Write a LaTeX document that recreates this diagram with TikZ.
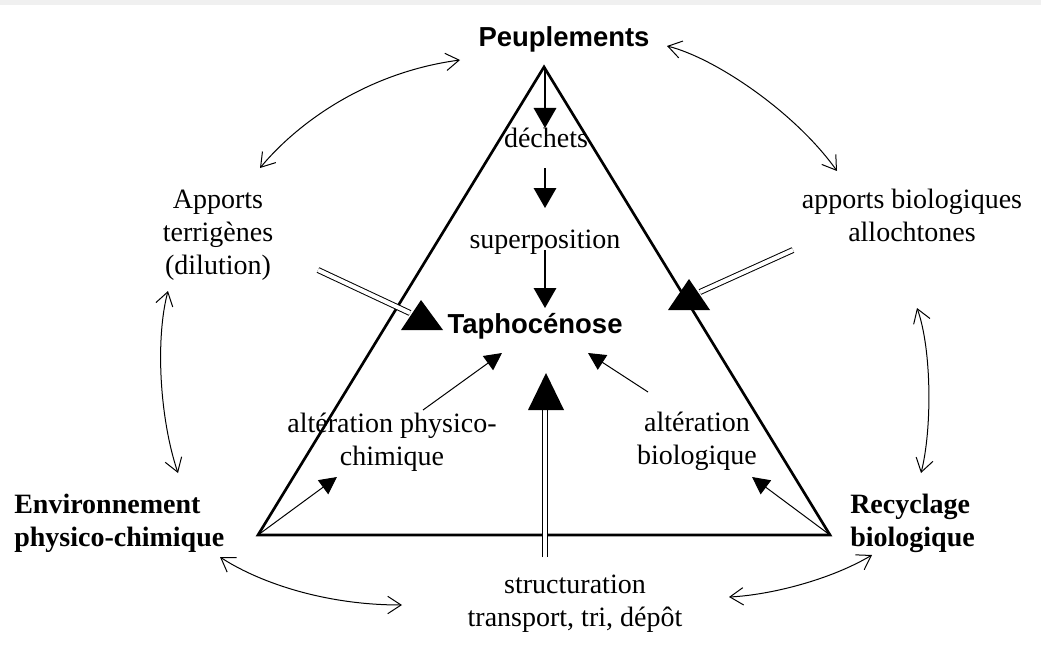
\documentclass[tikz,border=0pt]{standalone}
\usepackage{fontspec}
\setmainfont{Liberation Serif}
\newfontfamily\arialfont{Liberation Sans}
\usetikzlibrary{arrows.meta}
\newcommand{\txtlines}[2]{\begin{tabular}[t]{@{}#1@{}}#2\end{tabular}}
\begin{document}
\begin{tikzpicture}[x=0.75pt,y=-0.75pt,
  reg/.style={font=\fontsize{21}{24.75}\selectfont, inner sep=0pt, anchor=base},
  hdsans/.style={font=\arialfont\bfseries\fontsize{20.6}{24}\selectfont, inner sep=0pt, anchor=base},
  hdserif/.style={font=\bfseries\fontsize{21}{24.75}\selectfont, inner sep=0pt, anchor=base west},
  edgeline/.style={line width=2pt},
  flow/.style={line width=0.8pt, -{Triangle[length=15pt,width=17pt]}},
  smallflow/.style={line width=0.75pt, -{Triangle[length=13pt,width=13pt]}},
  link/.style={line width=0.75pt, {Straight Barb[length=10pt,width=13pt]}-{Straight Barb[length=10pt,width=13pt]}},
  dbl/.style={draw, double, line width=0.75pt, double distance=3pt},
  headtri/.style={fill=black}]
\useasboundingbox (0,0) rectangle (1041,649);
\fill[black!6] (0,0) rectangle (1041,5);

% triangle vertices
\coordinate (apex) at (544,67);
\coordinate (bl) at (258,535);
\coordinate (br) at (830,535);
\draw[edgeline] (apex) -- (bl) -- (br) -- cycle;

% texts
\node[hdsans] (peup) at (564,47) {Peuplements};
\node[hdsans] (tapho) at (535,333) {Taphocénose};
\node[reg] (dechets) at (546,147) {déchets};
\node[reg] (superp) at (545,248) {superposition};
\node[reg] (apports) at (218,208) {\txtlines{c}{Apports\\terrigènes\\(dilution)}};
\node[reg] (bio) at (912,208) {\txtlines{c}{apports biologiques\\allochtones}};
\node[reg] (altphys) at (392,432) {\txtlines{c}{altération physico-\\chimique}};
\node[reg] (altbio) at (697,431) {\txtlines{c}{altération\\biologique}};
\node[reg] (struct) at (575,593) {\txtlines{c}{structuration\\transport, tri, dépôt}};
\node[hdserif] (env) at (14,513) {\txtlines{l}{Environnement\\physico-chimique}};
\node[hdserif] (recyc) at (850,513) {\txtlines{l}{Recyclage\\biologique}};

% vertical flow arrows
\coordinate (v1a) at (545,67);  \coordinate (v1b) at (545,128);
\coordinate (v2a) at (545,168); \coordinate (v2b) at (545,208);
\coordinate (v3a) at (545,250); \coordinate (v3b) at (545,308);
\draw[flow] (v1a) -- (v1b);
\draw[flow] (v2a) -- (v2b);
\draw[flow] (v3a) -- (v3b);

% small alteration arrows
\coordinate (s1b) at (337,477);
\coordinate (s2a) at (423,410); \coordinate (s2b) at (502,353);
\coordinate (s3b) at (752,477);
\coordinate (s4a) at (648,392); \coordinate (s4b) at (588,353);
\draw[smallflow] (bl) -- (s1b);
\draw[smallflow] (s2a) -- (s2b);
\draw[smallflow] (br) -- (s3b);
\draw[smallflow] (s4a) -- (s4b);

% double arrows with upright heads
\coordinate (d1a) at (318,270); \coordinate (d1b) at (410,313);
\coordinate (d2a) at (793,250); \coordinate (d2b) at (700,292);
\coordinate (d3a) at (545,557); \coordinate (d3b) at (545,409);
\draw[dbl] (d1a) -- (d1b);
\draw[dbl] (d2a) -- (d2b);
\draw[dbl] (d3a) -- (d3b);
\fill[headtri] (421,300) -- (443,330) -- (401,330) -- cycle;
\fill[headtri] (689,279) -- (710,310) -- (668,310) -- cycle;
\fill[headtri] (546,373) -- (564,410) -- (528,410) -- cycle;

% curved double-headed links
\coordinate (c1a) at (260,168); \coordinate (c1b) at (460,60);
\coordinate (c2a) at (667,46);  \coordinate (c2b) at (837,171);
\coordinate (c3a) at (168,291); \coordinate (c3b) at (178,473);
\coordinate (c4a) at (917,308); \coordinate (c4b) at (921,473);
\coordinate (c5a) at (220,557); \coordinate (c5b) at (402,605);
\coordinate (c6a) at (729,597); \coordinate (c6b) at (872,555);
\draw[link] (c1a) .. controls (300,120) and (370,72) .. (c1b);
\draw[link] (c2a) .. controls (715,58) and (795,112) .. (c2b);
\draw[link] (c3a) .. controls (155,340) and (160,420) .. (c3b);
\draw[link] (c4a) .. controls (932,350) and (932,430) .. (c4b);
\draw[link] (c5a) .. controls (255,580) and (320,605) .. (c5b);
\draw[link] (c6a) .. controls (770,595) and (830,580) .. (c6b);
\end{tikzpicture}
\end{document}
